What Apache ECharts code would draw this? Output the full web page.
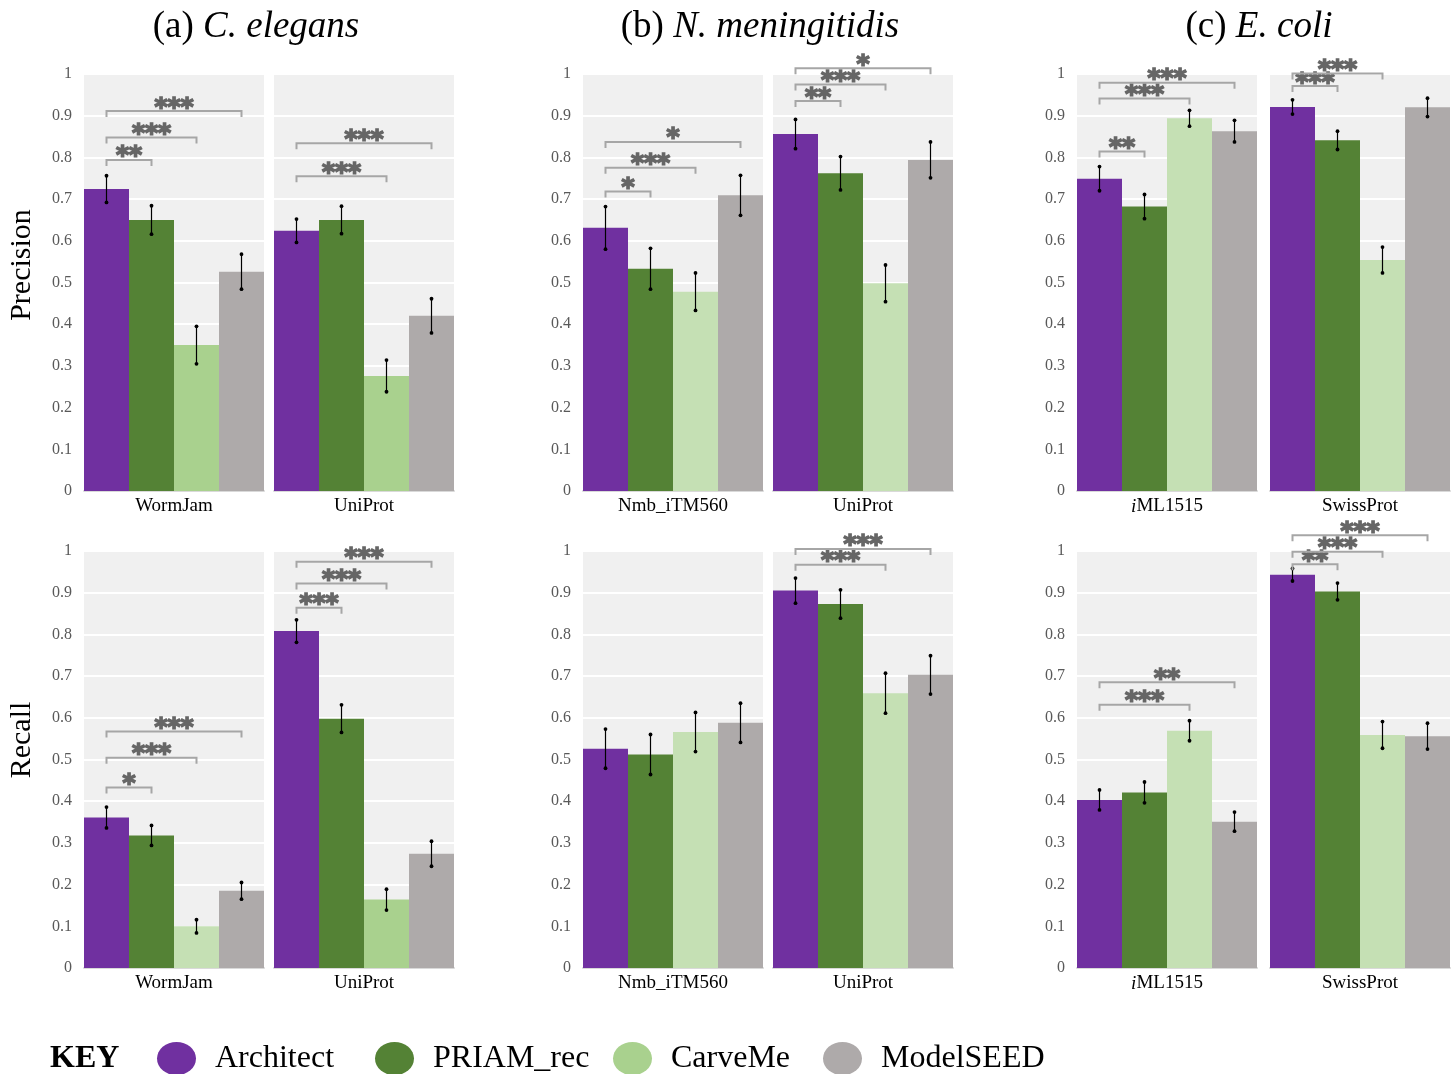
<!DOCTYPE html>
<html><head><meta charset="utf-8">
<script src="https://cdn.jsdelivr.net/npm/echarts@6/dist/echarts.min.js"></script>
<style>html,body{margin:0;padding:0;background:#fff}#c{width:1456px;height:1074px}</style>
</head><body><div id="c"></div><script>
// ---------- data ----------
const methods = ['Architect', 'PRIAM_rec', 'CarveMe', 'ModelSEED'];
const panelTitles = [['(a) ', 'C. elegans'], ['(b) ', 'N. meningitidis'], ['(c) ', 'E. coli']];
const rowTitles = ['Precision', 'Recall'];
const subsets = [['WormJam', 'UniProt'], ['Nmb_iTM560', 'UniProt'], ['iML1515', 'SwissProt']];

// Precision (mean, error half-width, significance brackets [from, to, level, stars])
const precElegansWormJam = [0.724, 0.650, 0.350, 0.526];
const precElegansWormJamErr = [0.032, 0.034, 0.045, 0.042];
const precElegansWormJamSig = [[0, 1, 0.794, '**'], [0, 2, 0.848, '***'], [0, 3, 0.911, '***']];
const precElegansUniProt = [0.624, 0.650, 0.276, 0.420];
const precElegansUniProtErr = [0.028, 0.033, 0.038, 0.041];
const precElegansUniProtSig = [[0, 2, 0.755, '***'], [0, 3, 0.834, '***']];
const precNmbITM560 = [0.631, 0.533, 0.478, 0.709];
const precNmbITM560Err = [0.051, 0.049, 0.045, 0.048];
const precNmbITM560Sig = [[0, 1, 0.718, '*'], [0, 2, 0.775, '***'], [0, 3, 0.837, '*']];
const precNmbUniProt = [0.856, 0.762, 0.498, 0.794];
const precNmbUniProtErr = [0.035, 0.040, 0.044, 0.043];
const precNmbUniProtSig = [[0, 1, 0.935, '**'], [0, 2, 0.975, '***'], [0, 3, 1.014, '*']];
const precColiIML1515 = [0.749, 0.682, 0.894, 0.863];
const precColiIML1515Err = [0.029, 0.029, 0.019, 0.026];
const precColiIML1515Sig = [[0, 1, 0.814, '**'], [0, 2, 0.941, '***'], [0, 3, 0.979, '***']];
const precColiSwissProt = [0.921, 0.841, 0.554, 0.920];
const precColiSwissProtErr = [0.017, 0.022, 0.031, 0.022];
const precColiSwissProtSig = [[0, 1, 0.971, '***'], [0, 2, 1.001, '***']];

// Recall
const recElegansWormJam = [0.361, 0.318, 0.100, 0.185];
const recElegansWormJamErr = [0.025, 0.024, 0.016, 0.020];
const recElegansWormJamSig = [[0, 1, 0.433, '*'], [0, 2, 0.504, '***'], [0, 3, 0.567, '***']];
const recElegansUniProt = [0.808, 0.598, 0.164, 0.274];
const recElegansUniProtErr = [0.027, 0.033, 0.025, 0.030];
const recElegansUniProtSig = [[0, 1, 0.864, '***'], [0, 2, 0.922, '***'], [0, 3, 0.974, '***']];
const recNmbITM560 = [0.526, 0.512, 0.566, 0.588];
const recNmbITM560Err = [0.047, 0.048, 0.047, 0.047];
const recNmbITM560Sig = [];
const recNmbUniProt = [0.905, 0.873, 0.659, 0.703];
const recNmbUniProtErr = [0.030, 0.034, 0.048, 0.046];
const recNmbUniProtSig = [[0, 2, 0.967, '***'], [0, 3, 1.005, '***']];
const recColiIML1515 = [0.403, 0.421, 0.569, 0.351];
const recColiIML1515Err = [0.024, 0.025, 0.024, 0.023];
const recColiIML1515Sig = [[0, 2, 0.631, '***'], [0, 3, 0.685, '**']];
const recColiSwissProt = [0.943, 0.903, 0.559, 0.556];
const recColiSwissProtErr = [0.015, 0.020, 0.032, 0.031];
const recColiSwissProtSig = [[0, 1, 0.968, '**'], [0, 2, 0.998, '***'], [0, 3, 1.038, '***']];

// ---------- styles / layout ----------
const colors = ['#7030a0', '#548235', '#c5e0b4', '#aeaaaa'];
const carveBright = '#a9d18e';
const serif = "'Liberation Serif', 'DejaVu Serif', serif";
const colLefts = [[84, 274], [583, 773], [1077, 1270]];
const rowTops = [74, 551];
const gridW = 180, gridH = 417;

const panels = [
  [0, 0, 0, precElegansWormJam, precElegansWormJamErr, precElegansWormJamSig, true],
  [0, 0, 1, precElegansUniProt, precElegansUniProtErr, precElegansUniProtSig, true],
  [0, 1, 0, precNmbITM560, precNmbITM560Err, precNmbITM560Sig, false],
  [0, 1, 1, precNmbUniProt, precNmbUniProtErr, precNmbUniProtSig, false],
  [0, 2, 0, precColiIML1515, precColiIML1515Err, precColiIML1515Sig, false],
  [0, 2, 1, precColiSwissProt, precColiSwissProtErr, precColiSwissProtSig, false],
  [1, 0, 0, recElegansWormJam, recElegansWormJamErr, recElegansWormJamSig, false],
  [1, 0, 1, recElegansUniProt, recElegansUniProtErr, recElegansUniProtSig, true],
  [1, 1, 0, recNmbITM560, recNmbITM560Err, recNmbITM560Sig, false],
  [1, 1, 1, recNmbUniProt, recNmbUniProtErr, recNmbUniProtSig, false],
  [1, 2, 0, recColiIML1515, recColiIML1515Err, recColiIML1515Sig, false],
  [1, 2, 1, recColiSwissProt, recColiSwissProtErr, recColiSwissProtSig, false]
];

const grids = [], xAxes = [], yAxes = [], series = [];

function errRender(params, api) {
  const idx = api.value(3);
  const band = api.size([1, 0])[0];
  const lo = api.coord([0, api.value(1)]);
  const hi = api.coord([0, api.value(2)]);
  const cx = lo[0] + (idx - 1.5) * band / 4;
  return {
    type: 'group', children: [
      { type: 'line', shape: { x1: cx, y1: lo[1], x2: cx, y2: hi[1] }, style: { stroke: '#000', lineWidth: 1.2 } },
      { type: 'circle', shape: { cx: cx, cy: lo[1], r: 1.9 }, style: { fill: '#000' } },
      { type: 'circle', shape: { cx: cx, cy: hi[1], r: 1.9 }, style: { fill: '#000' } }
    ]
  };
}
function makeSigRender(sig) {
  return function (params, api) {
    const s = sig[params.dataIndex];
    const band = api.size([1, 0])[0];
    const p = api.coord([0, s[2]]);
    const x1 = p[0] + (s[0] - 1.5) * band / 4;
    const x2 = p[0] + (s[1] - 1.5) * band / 4;
    const y = p[1];
    return {
      type: 'group', children: [
        { type: 'polyline', shape: { points: [[x1, y + 6], [x1, y], [x2, y], [x2, y + 6]] },
          style: { stroke: '#a6a6a6', lineWidth: 2, fill: null } },
        { type: 'text', x: (x1 + x2) / 2, y: y - 3,
          style: { text: s[3], fill: '#666666', stroke: '#666666', lineWidth: 1.6,
            font: "bold 25px 'DejaVu Sans'",
            align: 'center', verticalAlign: 'middle', textAlign: 'center', textVerticalAlign: 'middle' } }
      ]
    };
  };
}

panels.forEach((pn, gi) => {
  const [row, col, sub, mean, err, sig, bright] = pn;
  grids.push({ left: colLefts[col][sub], top: rowTops[row], width: gridW, height: gridH,
    show: true, backgroundColor: '#f0f0f0', borderWidth: 0 });
  xAxes.push({ type: 'category', gridIndex: gi, data: [subsets[col][sub]],
    axisLine: { show: true, lineStyle: { color: '#d9d9d9', width: 2 } },
    axisTick: { show: false },
    axisLabel: { margin: 6, color: '#000', fontSize: 19, fontFamily: serif,
      formatter: v => v === 'iML1515' ? '{it|i}{n|ML1515}' : '{n|' + v + '}',
      rich: { it: { fontStyle: 'italic', fontSize: 19, fontFamily: serif, color: '#000' },
              n: { fontSize: 19, fontFamily: serif, color: '#000' } } } });
  yAxes.push({ type: 'value', gridIndex: gi, min: 0, max: 1, interval: 0.1,
    axisLine: { show: false }, axisTick: { show: false },
    splitLine: { show: true, lineStyle: { color: '#ffffff', width: 2 } },
    axisLabel: { show: sub === 0, margin: 12, color: '#595959', fontSize: 16, fontFamily: serif,
      padding: [0, 0, 5, 0],
      formatter: v => String(Math.round(v * 10) / 10) } });
  methods.forEach((m, mi) => {
    let c = colors[mi];
    if (mi === 2 && bright) c = carveBright;
    series.push({ type: 'bar', name: m, xAxisIndex: gi, yAxisIndex: gi,
      data: [mean[mi]], barGap: '0%', barCategoryGap: '0%',
      itemStyle: { color: c }, emphasis: { disabled: true }, animation: false });
  });
  series.push({ type: 'custom', xAxisIndex: gi, yAxisIndex: gi, z: 5, clip: false, animation: false,
    renderItem: errRender, encode: { x: 0, y: [1, 2] },
    data: mean.map((v, i) => [0, +(v - err[i]).toFixed(3), +(v + err[i]).toFixed(3), i]) });
  if (sig.length) {
    series.push({ type: 'custom', xAxisIndex: gi, yAxisIndex: gi, z: 6, clip: false, animation: false,
      renderItem: makeSigRender(sig), encode: { x: 0, y: 1 },
      data: sig.map(s => [0, s[2]]) });
  }
});

const titleCenters = [256, 760, 1259];
const graphics = [];
panelTitles.forEach((t, i) => {
  graphics.push({ type: 'text', x: titleCenters[i], y: 27,
    style: { text: '{n|' + t[0] + '}{i|' + t[1] + '}', align: 'center', verticalAlign: 'middle',
      rich: { n: { fontSize: 37, fontFamily: serif, fill: '#000' },
              i: { fontSize: 37, fontFamily: serif, fontStyle: 'italic', fill: '#000' } } } });
});
const rowTitleY = [265, 740];
rowTitles.forEach((t, i) => {
  graphics.push({ type: 'text', x: 22, y: rowTitleY[i], rotation: Math.PI / 2,
    style: { text: t, font: "30px 'Liberation Serif'", fill: '#000', align: 'center', verticalAlign: 'middle' } });
});
graphics.push({ type: 'text', x: 50, y: 1059,
  style: { text: 'KEY', font: "bold 32px 'Liberation Serif'", fill: '#000', align: 'left', verticalAlign: 'middle' } });

const legendLefts = [157, 375, 613, 823];
const legendColors = ['#7030a0', '#548235', '#a9d18e', '#aeaaaa'];
const legends = methods.map((m, i) => ({
  left: legendLefts[i], top: 1042, padding: 0, selectedMode: false,
  itemWidth: 39, itemHeight: 34,
  icon: 'path://M0,17 A20,17 0 1 1 40,17 A20,17 0 1 1 0,17 Z',
  data: [{ name: m, itemStyle: { color: legendColors[i] } }],
  textStyle: { fontSize: 32, fontFamily: serif, color: '#000', padding: [0, 0, 0, 14] }
}));

const chart = echarts.init(document.getElementById('c'), null, { renderer: 'canvas' });
chart.setOption({
  animation: false,
  backgroundColor: '#ffffff',
  grid: grids, xAxis: xAxes, yAxis: yAxes, series: series,
  legend: legends, graphic: graphics, tooltip: { show: false }
});
</script></body></html>
